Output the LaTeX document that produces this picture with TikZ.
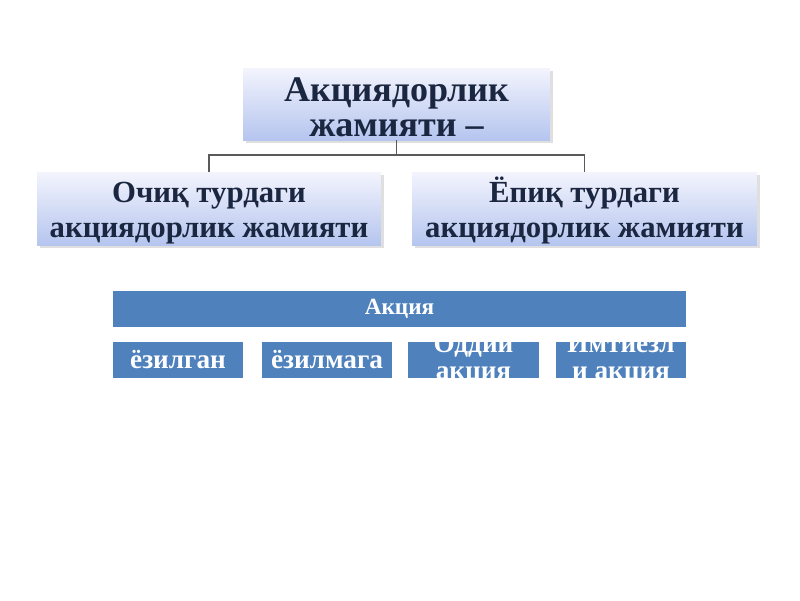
\documentclass[tikz,border=0pt]{standalone}
\usepackage{fontspec}
\setmainfont{Liberation Serif}
\usetikzlibrary{shadows}
\definecolor{navy}{HTML}{1B2640}
\definecolor{accblue}{HTML}{4F81BD}
\definecolor{lineg}{HTML}{5A5A5A}
\definecolor{gtop}{HTML}{F3F4FD}
\definecolor{gbot}{HTML}{B5C5EF}
\newcommand{\firststrut}{\rule{0pt}{0.94em}}
\newcommand{\topstrut}{\rule{0pt}{0.84em}}
\begin{document}
\begin{tikzpicture}[x=0.02cm,y=-0.02cm,
  lightbox/.style={rectangle, inner sep=0pt, top color=gtop, bottom color=gbot,
    draw=none, align=center, text=navy, font=\bfseries,
    drop shadow={shadow xshift=1.5pt, shadow yshift=-1.5pt, opacity=0.25, fill=gray}},
  bluebox/.style={rectangle, inner sep=0pt, fill=accblue, draw=none},
  whitetext/.style={text=white, font=\bfseries\fontsize{15.5}{15.3}\selectfont, align=center, inner sep=0pt},
  conn/.style={draw=lineg, line width=1.1pt}
  ]
\useasboundingbox (0,0) rectangle (800,600);
\fill[white] (0,0) rectangle (800,600);

% top box
\node[lightbox, minimum width=6.14cm, minimum height=1.44cm,
  font=\bfseries\fontsize{20.5}{20}\selectfont] (top) at (396.5,104) {\topstrut Акциядорлик\\жамияти –};
% second level
\node[lightbox, minimum width=6.88cm, minimum height=1.46cm,
  font=\bfseries\fontsize{17.5}{19.8}\selectfont] (left) at (209,208.5) {\firststrut Очиқ турдаги\\акциядорлик жамияти};
\node[lightbox, minimum width=6.9cm, minimum height=1.46cm,
  font=\bfseries\fontsize{17.5}{19.8}\selectfont] (right) at (584.5,208.5) {\firststrut Ёпиқ турдаги\\акциядорлик жамияти};

% connectors
\coordinate (mid) at (396.5,155);
\draw[conn] (top.south) -- (mid);
\draw[conn] (left.north) -- (left.north |- mid) -- (right.north |- mid) -- (right.north);

% small blue boxes
\node[bluebox, minimum width=2.6cm, minimum height=0.72cm] (b1) at (178,360) {};
\node[bluebox, minimum width=2.6cm, minimum height=0.72cm] (b2) at (327,360) {};
\node[bluebox, minimum width=2.62cm, minimum height=0.72cm] (b3) at (473.5,360) {};
\node[bluebox, minimum width=2.6cm, minimum height=0.72cm] (b4) at (621,360) {};

\begin{scope}
\clip (b1.north west) rectangle (b1.south east);
\node[whitetext] (t1) at (178,360) {ёзилган};
\end{scope}
\begin{scope}
\clip (b2.north west) rectangle (b2.south east);
\node[whitetext] (t2) at (327,360) {ёзилмага};
\end{scope}
\begin{scope}
\clip (b3.north west) rectangle (b3.south east);
\node[whitetext] (t3) at (473.5,359) {Оддий\\акция};
\end{scope}
\begin{scope}
\clip (b4.north west) rectangle (b4.south east);
\node[whitetext] (t4) at (621,359) {Имтиезл\\и акция};
\end{scope}

% Акция bar
\node[bluebox, minimum width=11.46cm, minimum height=0.72cm, text=white,
  font=\bfseries\fontsize{13.2}{14}\selectfont] (bar) at (399.5,309) {Акция};
\end{tikzpicture}
\end{document}
